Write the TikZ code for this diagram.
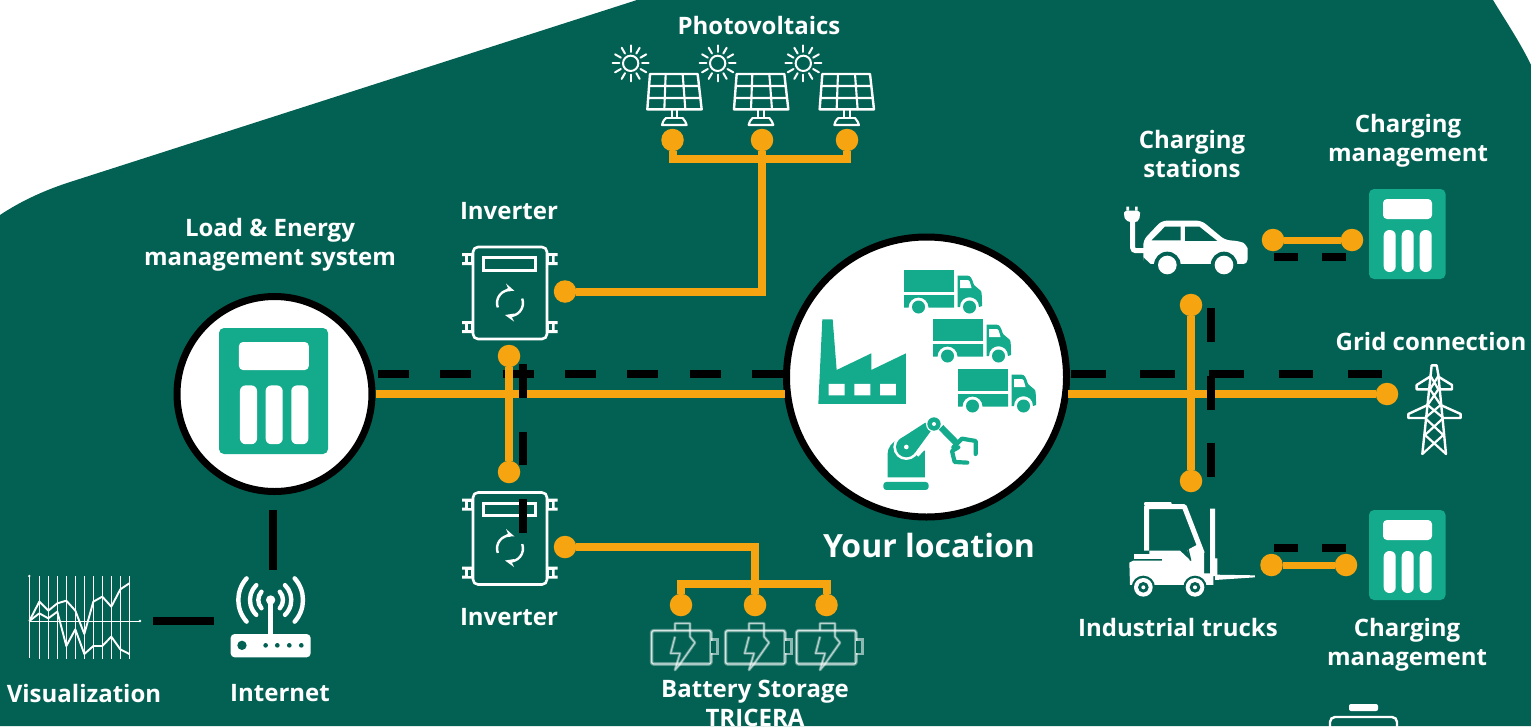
\documentclass[tikz,border=0pt]{standalone}
\usepackage{fontspec}
\setmainfont{Open Sans}
\definecolor{bgG}{HTML}{036153}
\definecolor{teal}{HTML}{14AA8C}
\definecolor{org}{HTML}{F6A511}
\tikzset{
 lab/.style={text=white,font=\fontsize{24}{29}\selectfont\bfseries,align=center,inner sep=0pt},
 bigcirc/.style={circle,draw=black,line width=7pt,fill=white,inner sep=0pt},
 dot/.style={circle,fill=org,inner sep=0pt,minimum size=22.5pt},
 oline/.style={draw=org,line width=8pt},
 odash/.style={draw=black,line width=8pt},
 wl/.style={draw=white,line width=2.4pt,line join=round,line cap=round},
 calc/.pic={
  \fill[teal,rounded corners=5pt] (0,0) rectangle (76.5,90);
  \fill[white,rounded corners=4pt] (14,10) rectangle (63,30);
  \foreach \q in {14.7,32.7,50.7}{\fill[white,rounded corners=5.7pt] (\q,41) rectangle ++(12,42);}
 },
 truck/.pic={
  \fill[teal] (0,0) rectangle (50,22);
  \fill[teal] (0,25) -- (50,25) -- (50,37.5) -- (24.5,37.5) arc[start angle=0,end angle=-180,radius=10] -- (0,37.5) -- cycle;
  \fill[teal] (53.5,5.5) -- (63,5.5) .. controls (67,5.5) and (68,9) .. (70,15) -- (77,21) .. controls (78,23) and (78,30) .. (78,36) -- (75,37) .. controls (75,24) and (56,24) .. (56,37) -- (53.5,37) -- cycle;
  \fill[white] (56,10) -- (64,10) .. controls (65.5,10) and (66,12) .. (67.5,18) -- (56,18) -- cycle;
  \fill[teal] (14.5,37) circle[radius=6.5];
  \fill[teal] (65.5,37) circle[radius=6.5];
 },
 panel/.pic={
  \draw[wl] (150,222) -- (293,222) -- (305,328) -- (142,328) -- cycle;
  \draw[wl,line width=2.1pt] (197,222) -- (193,328) (248,222) -- (256,328) (147,258) -- (297,258) (144,294) -- (301,294);
  \draw[wl,line width=2.1pt] (215,328) -- (215,352) (232,328) -- (232,352) (198,353) -- (248,353);
  \draw[wl,line width=2.1pt] (198,354) .. controls (190,362) and (187,368) .. (186,375) -- (260,375) .. controls (258,368) and (255,362) .. (248,354);
 },
 sun/.pic={
  \draw[wl,line width=2pt] (0,0) circle[radius=23];
  \foreach \a in {0,30,...,330}{\draw[wl,line width=2pt] (\a:34) -- (\a:54);}
 },
 batt/.pic={
  \begin{scope}[draw=white,line join=round]
  \draw[opacity=.35,line width=3.6pt,rounded corners=2pt] (65,122) rectangle (243,222);
  \draw[opacity=.75,line width=1.4pt,rounded corners=2pt] (65,122) rectangle (243,222);
  \fill[white,opacity=.55] (243,145) rectangle (268,195);
  \fill[bgG] (243,152) rectangle (259,188);
  \draw[opacity=.35,line width=2.8pt] (135,122) -- (135,100) -- (180,100) -- (180,140) -- (195,158) -- (150,222) -- (135,240) -- (150,190) -- (122,190) -- (135,140);
  \draw[opacity=.6,line width=1.1pt] (135,122) -- (135,100) -- (180,100) -- (180,140) -- (195,158) -- (150,222) -- (135,240) -- (150,190) -- (122,190) -- (135,140);
  \end{scope}
 }
}
\begin{document}
\begin{tikzpicture}[x=1pt,y=-1pt]
\useasboundingbox (0,0) rectangle (1531,726);
\clip (0,0) rectangle (1531,726);
\fill[white] (0,0) rectangle (1531,726);
% background
\fill[bgG] (0,215) .. controls (18,203) and (40,192) .. (67,183) -- (637,0) -- (1493,0) .. controls (1505,20) and (1520,42) .. (1531,65) -- (1531,726) -- (0,726) -- cycle;

% main round nodes
\node[bigcirc,minimum size=195pt] (lem) at (274.5,394) {};
\node[bigcirc,minimum size=280pt] (loc) at (926.5,377) {};
% dots
\node[dot] (pv1) at (672.5,140) {};
\node[dot] (pv2) at (762,140) {};
\node[dot] (pv3) at (847,140) {};
\node[dot] (invA) at (565,291.5) {};
\node[dot] (invB) at (509,356) {};
\node[dot] (invC) at (509,472) {};
\node[dot] (invD) at (565,547) {};
\node[dot] (ba1) at (681,605) {};
\node[dot] (ba2) at (755,605) {};
\node[dot] (ba3) at (826.5,605) {};
\node[dot] (grid) at (1387,394) {};
\node[dot] (cs1) at (1191,305) {};
\node[dot] (cs2) at (1191,481) {};
\node[dot] (cmA) at (1273,240) {};
\node[dot] (cmB) at (1352,240) {};
\node[dot] (cmC) at (1271.5,565) {};
\node[dot] (cmD) at (1346,565) {};

% free ends
\coordinate (hL0) at (378,374); \coordinate (hL1) at (783,374);
\coordinate (hR0) at (1071,374); \coordinate (hR1) at (1382,374);
\coordinate (locL) at (785,394); \coordinate (locR) at (1068,394);
\coordinate (busPV) at (762,159);
\coordinate (busB) at (755,584);

% black dashes horizontal
\draw[odash,dash pattern=on 31pt off 31.3pt] (hL0) -- (hL1);
\draw[odash,dash pattern=on 34.5pt off 34.7pt] (hR0) -- (hR1);
\draw[odash,dash pattern=on 24pt off 24pt] (1274,256.5) -- (1346,256.5);
\draw[odash,dash pattern=on 24pt off 24pt] (1274,547.5) -- (1346,547.5);

% orange lines
\draw[oline,line width=8.3pt] (lem) -- (locL);
\draw[oline,line width=8.3pt] (locR) -- (grid);
\draw[oline] (invB) -- (invC);
\draw[oline] (cs1) -- (cs2);
\draw[oline,line width=7pt] (cmA) -- (cmB);
\draw[oline,line width=7pt] (cmC) -- (cmD);
\draw[oline] (pv2) |- (invA);
\draw[oline] (pv1) |- (busPV) -| (pv3);
\draw[oline] (invD) -| (ba2);
\draw[oline] (ba1) |- (busB) -| (ba3);

% inverters
\foreach \yy in {0,245.5}{
\begin{scope}[shift={(0,\yy)}]
 \draw[wl,rounded corners=5pt,line width=2.6pt] (473,247) rectangle (547,339);
 \draw[wl,line cap=butt,line join=miter,line width=3.3pt] (483.7,257.7) rectangle (535.3,270.3);
 \foreach \ey in {259,327}{
  \fill[white] (473,\ey-6) -- (462,\ey-6) -- (462,\ey-3) -- (465,\ey-3) -- (465,\ey+3) -- (462,\ey+3) -- (462,\ey+6) -- (473,\ey+6) -- cycle;
  \fill[bgG] (468,\ey-3) rectangle (471,\ey+3);
  \fill[white] (547,\ey-6) -- (557.5,\ey-6) -- (557.5,\ey-3) -- (554.5,\ey-3) -- (554.5,\ey+3) -- (557.5,\ey+3) -- (557.5,\ey+6) -- (547,\ey+6) -- cycle;
  \fill[bgG] (549,\ey-3) rectangle (552,\ey+3);
 }
 \draw[white,line width=2.4pt] (510,303) ++(160:13) arc[start angle=160,end angle=272,radius=13];
 \draw[white,line width=2.4pt] (510,303) ++(-20:13) arc[start angle=-20,end angle=92,radius=13];
 \fill[white] (506,283.5) -- (514.5,291) -- (504.5,290.5) -- (508,288) -- cycle;
 \fill[white] (514,321.5) -- (505,315) -- (514.5,313.5) -- (512,317.5) -- cycle;
\end{scope}}

% black verticals on top
\coordinate (vL0) at (523,364); \coordinate (vL1) at (523,533);
\coordinate (vR0) at (1210.5,308); \coordinate (vR1) at (1210.5,477);
\draw[odash,dash pattern=on 33.5pt off 34pt] (vL0) -- (vL1);
\draw[odash,dash pattern=on 34pt off 33.5pt] (vR0) -- (vR1);
\coordinate (w0) at (273,510); \coordinate (w1) at (273,570);
\draw[odash,line width=7.5pt] (w0) -- (w1);
\coordinate (h0) at (153,621); \coordinate (h1) at (214,621);
\draw[odash] (h0) -- (h1);

% calculators
\pic[xscale=1.425,yscale=1.4,transform shape] at (219,328) {calc};
\pic at (1369,189) {calc};
\pic at (1369,510) {calc};

% trucks
\pic at (904,270) {truck};
\pic at (933,319) {truck};
\pic at (958,369) {truck};

% factory + robot, in zoom coordinates
\begin{scope}[shift={(780,230)},x=0.3333pt,y=-0.3333pt]
 \fill[teal] (115,522) -- (127,268) -- (158,268) -- (170,420) -- (274,370) -- (274,420) -- (378,370) -- (378,522) -- cycle;
 \fill[white] (146,462) rectangle (194,496) (223,462) rectangle (271,496) (300,462) rectangle (348,496);
 \fill[teal,rounded corners=3pt] (310,780) -- (310,756) -- (446,756) -- (446,780) -- cycle;
 \fill[teal] (323,742) -- (323,670) .. controls (323,655) and (335,635) .. (356,628) -- (420,640) -- (435,665) -- (435,742) -- cycle;
 \fill[white] (379,651) circle[radius=39];
 \fill[white] (340,620) -- (430,565) -- (470,620) -- (415,680) -- cycle;
 \fill[teal] (379,651) circle[radius=31];
 \fill[teal] (360,627) -- (436,578) -- (452,604) -- (405,668) -- cycle;
 \fill[white] (379,651) circle[radius=7];
 \fill[white] (462,582) circle[radius=24];
 \fill[teal] (462,582) circle[radius=20];
 \fill[white] (462,582) circle[radius=6];
 \draw[teal,line width=6.5pt] (483,592) -- (532,642);
 \draw[teal,line width=4.2pt,line cap=round,line join=round] (520,652) -- (546,626) -- (587,633) -- (587,672);
 \draw[teal,line width=4.2pt,line cap=round,line join=round] (535,652) -- (516,663) -- (524,696) -- (562,698);
\end{scope}

% car
\begin{scope}[shift={(1110,180)},x=0.3333pt,y=-0.3333pt]
 \fill[white,rounded corners=3pt] (42,92) -- (90,92) -- (90,105) .. controls (88,118) and (80,125) .. (75,127) -- (60,127) .. controls (50,122) and (44,115) .. (42,105) -- cycle;
 \fill[white] (49,80) rectangle (57,92) (75,80) rectangle (83,92);
 \draw[white,line width=5pt,rounded corners=3pt] (68,125) -- (68,212) -- (102,212);
 \fill[white,rounded corners=5pt] (100,180) -- (155,122) -- (275,122) -- (345,180) -- (385,183) .. controls (405,190) and (413,205) .. (413,220) -- (413,253) -- (100,253) -- cycle;
 \fill[bgG] (172,255) circle[radius=40] (342,255) circle[radius=40];
 \fill[bgG] (120,253) rectangle (400,285);
 \fill[bgG] (100,232) -- (128,258) -- (100,258) -- cycle;
 \fill[white] (172,255) circle[radius=28] (342,255) circle[radius=28];
 \fill[bgG] (125,181) -- (165,140) -- (212,140) -- (212,181) -- cycle;
 \fill[bgG] (225,140) -- (268,140) -- (322,183) -- (225,183) -- cycle;
\end{scope}

% forklift
\begin{scope}[shift={(1100,490)},x=0.3333pt,y=-0.3333pt]
 \draw[white,line width=5pt,line join=round] (140,182) -- (140,50) -- (253,50) -- (307,190);
 \fill[white,rounded corners=1pt] (132,36) rectangle (215,46);
 \fill[white] (103,192) rectangle (186,206);
 \fill[white] (88,218) -- (100,212) -- (186,212) -- (186,205) -- (148,205) -- (148,182) -- (240,182) -- (272,212) -- (262,180) -- (290,165) -- (312,188) -- (312,250) -- (340,250) -- (340,285) -- (90,285) -- cycle;
 \draw[bgG,line width=1.5pt] (235,158) -- (262,132) (250,145) -- (285,165) (262,170) -- (272,212);
 \fill[white] (330,56) rectangle (345,205) (330,205) rectangle (352,258);
 \fill[white] (345,254) -- (465,256) -- (465,262) -- (345,270) -- cycle;
 \fill[bgG] (130,292) circle[radius=35] (285,292) circle[radius=35];
 \fill[white] (130,292) circle[radius=28] (285,292) circle[radius=28];
 \fill[bgG] (130,292) circle[radius=16] (285,292) circle[radius=16];
 \fill[white] (130,292) circle[radius=6] (285,292) circle[radius=6];
\end{scope}

% router, chart
\begin{scope}[shift={(0,560)},x=0.3333pt,y=-0.3333pt]
 \fill[white,rounded corners=4pt] (692,222) rectangle (932,292);
 \fill[bgG] (726,256) circle[radius=14];
 \foreach \q in {797,832,868,904}{\fill[bgG] (\q,256) circle[radius=7];}
 \draw[white,line width=4.6pt] (812,120) -- (812,224);
 \fill[white] (812,120) circle[radius=14];
 \foreach \r/\s in {37/42,62/46,97/42}{
  \draw[white,line width=4.4pt,line cap=round] (812,120) ++(180+\s:\r) arc[start angle=180+\s,end angle=180-\s,radius=\r];
  \draw[white,line width=4.4pt,line cap=round] (812,120) ++(-\s:\r) arc[start angle=-\s,end angle=\s,radius=\r];
 }
 \foreach \q in {118,145,172,199,226,253,280,307,334,361,388}{\draw[white,line width=1pt] (\q,48) -- (\q,296);}
 \draw[white,line width=.7pt] (88,50) -- (88,294) (88,183) -- (420,183);
 \fill[white] (88,48) circle[radius=4] (420,183) circle[radius=4];
 \draw[white,line width=1.9pt,line join=round] (88,183) -- (118,125) -- (145,152) -- (172,130) -- (199,122) -- (226,152) -- (253,222) -- (280,125) -- (307,110) -- (334,140) -- (361,88) -- (388,70);
 \draw[white,line width=1.9pt,line join=round] (88,183) -- (118,160) -- (145,175) -- (172,155) -- (199,258) -- (226,208) -- (253,282) -- (280,258) -- (307,258) -- (334,230) -- (361,268) -- (388,282);
\end{scope}

% solar
\begin{scope}[shift={(600,0)},x=0.3333pt,y=-0.3333pt]
 \pic at (0,0) {panel};
 \pic at (260,0) {panel};
 \pic at (517,0) {panel};
 \pic at (92,190) {sun};
 \pic at (353,190) {sun};
 \pic at (610,190) {sun};
\end{scope}

% batteries
\begin{scope}[shift={(630,590)},x=0.3333pt,y=-0.3333pt]
 \pic at (0,0) {batt};
 \pic at (222,0) {batt};
 \pic at (435,0) {batt};
\end{scope}

% tower
\begin{scope}[shift={(1380,340)},x=0.3333pt,y=-0.3333pt,line join=round]
 \draw[wl] (152,105) -- (155,76) -- (170,76) -- (175,105);
 \draw[wl] (150,110) -- (110,135) -- (110,148) -- (150,148) (175,110) -- (216,135) -- (216,148) -- (178,148);
 \draw[wl] (143,195) -- (85,222) -- (85,234) -- (135,234) (182,195) -- (242,222) -- (242,234) -- (190,234);
 \draw[wl] (152,105) -- (127,342) (175,105) -- (198,342);
 \draw[wl,line width=2.2pt] (152,108) -- (175,148) -- (143,195) -- (190,234) -- (135,285) -- (198,342) (175,108) -- (150,148) -- (182,195) -- (135,234) -- (190,285) -- (127,342);
\end{scope}

% bottom-right partial icon
\fill[white,rounded corners=2pt] (1349,704) rectangle (1378,711);
\draw[white,line width=2.4pt,rounded corners=5pt] (1330,740) -- (1330,717) -- (1397,717) -- (1397,740);

% labels
\node[lab] (tPV) at (759,25) {Photovoltaics};
\node[lab] (tLEM) at (270,244.5) {Load \& Energy\\management system};
\node[lab] (tInv1) at (509,211.5) {Inverter};
\node[lab] (tInv2) at (509,617.5) {Inverter};
\node[lab] (tVis) at (84,693) {Visualization};
\node[lab] (tNet) at (280,693.5) {Internet};
\node[lab,font=\fontsize{32}{40}\selectfont\bfseries] (tLoc) at (929,545) {Your location};
\node[lab] (tCS) at (1192,153.5) {Charging\\stations};
\node[lab] (tCM1) at (1408,140.5) {Charging\\management};
\node[lab] (tGrid) at (1431,341) {Grid connection};
\node[lab] (tTr) at (1178,627) {Industrial trucks};
\node[lab] (tCM2) at (1407,644.5) {Charging\\management};
\node[lab] (tBat) at (755,703) {Battery Storage\\TRICERA};
\end{tikzpicture}
\end{document}
